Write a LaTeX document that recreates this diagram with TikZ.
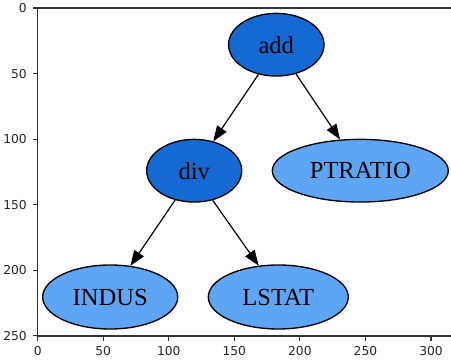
\documentclass[tikz,border=0pt]{standalone}
\usepackage{fontspec}
\setmainfont{Liberation Serif}
\newfontfamily\tickfont{DejaVu Sans}
\usetikzlibrary{shapes.geometric,arrows.meta}
\definecolor{darkop}{RGB}{20,106,210}
\definecolor{lightop}{RGB}{94,166,245}
\begin{document}
\begin{tikzpicture}[x=0.75pt,y=-0.75pt,
  gnode/.style={ellipse,draw=black,line width=1pt,inner sep=0pt,font=\fontsize{18.4}{20}\selectfont},
  opnode/.style={gnode,fill=darkop},
  leafnode/.style={gnode,fill=lightop},
  edge/.style={-{Triangle[length=11.5pt,width=8.5pt]},line width=0.9pt},
  spine/.style={line width=0.8pt,draw=black!80},
  tickmark/.style={line width=0.8pt,draw=black!80},
  ticklab/.style={font=\tickfont\fontsize{9.2}{10}\selectfont,text=black!85,inner sep=0pt}]
\useasboundingbox (0,0) rectangle (451,360);
% axes frame
\draw[spine] (451,8) -- (37.7,8) -- (37.7,336) -- (451,336);
\foreach \u in {0,50,...,300} {
  \draw[tickmark] ({37.7+1.311*\u},336) -- ++(0,4.7);
  \node[ticklab,anchor=north] at ({37.7+1.311*\u},346) {\u};
}
\foreach \v in {0,50,...,250} {
  \draw[tickmark] (37.7,{8+1.311*\v}) -- ++(-4.7,0);
  \node[ticklab,anchor=east] at (27,{8+1.311*\v}) {\v};
}
% graph
\node[opnode,minimum width=71.6pt,minimum height=47pt] (add) at (276.3,44.7) {add};
\node[opnode,minimum width=71.3pt,minimum height=47pt] (div) at (194.2,170.7) {div};
\node[leafnode,minimum width=132pt,minimum height=47pt] (ptratio) at (360.3,170.7) {PTRATIO};
\node[leafnode,minimum width=101.3pt,minimum height=48pt] (indus) at (110.2,297) {INDUS};
\node[leafnode,minimum width=105pt,minimum height=48pt] (lstat) at (278.3,297) {LSTAT};
\draw[edge] (add.239) -- (div.57);
\draw[edge] (add.304) -- (ptratio.123);
\draw[edge] (div.237) -- (indus.57);
\draw[edge] (div.302) -- (lstat.122);
\end{tikzpicture}
\end{document}
